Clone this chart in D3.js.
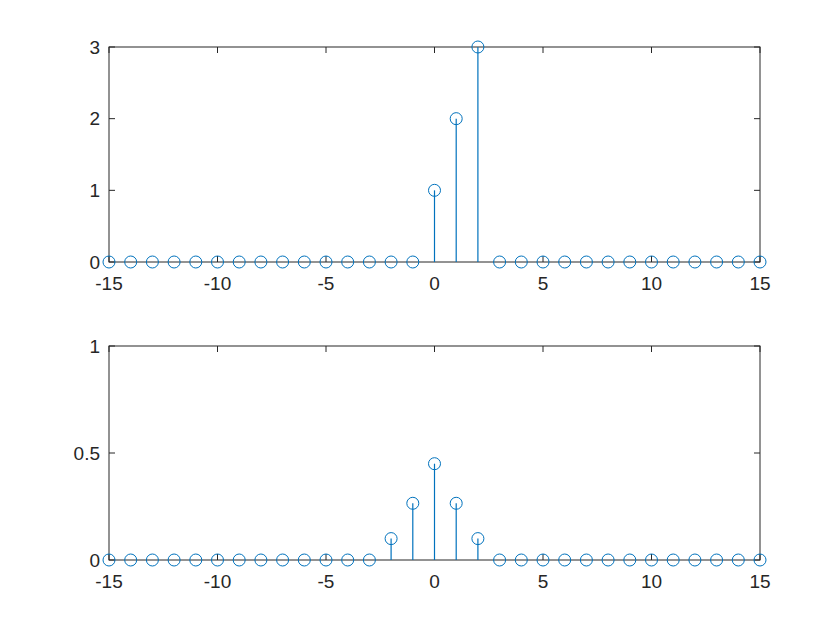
<!DOCTYPE html>
<html><head><meta charset="utf-8">
<script src="https://cdn.jsdelivr.net/npm/d3@7"></script>
<style>body{margin:0;background:#fff}svg{display:block}</style>
</head><body>
<script>
const nValues = d3.range(-15, 16);
const topValues = [0,0,0,0,0,0,0,0,0,0,0,0,0,0,0,1,2,3,0,0,0,0,0,0,0,0,0,0,0,0,0];
const bottomValues = [0,0,0,0,0,0,0,0,0,0,0,0,0,0.1,0.265,0.45,0.265,0.1,0,0,0,0,0,0,0,0,0,0,0,0,0];
const xTicks = [-15,-10,-5,0,5,10,15];
const topYTicks = [0,1,2,3];
const bottomYTicks = [0,0.5,1];

const W = 840, H = 630;
const svg = d3.select("body").append("svg").attr("width", W).attr("height", H);
const axisColor = "#262626", stemColor = "#0072BD";
const font = "Liberation Sans, Arial, Helvetica, sans-serif";

function panel(top, bottom, yDomain, yTicks, values, fmt) {
  const x = d3.scaleLinear().domain([-15, 15]).range([109, 760]);
  const y = d3.scaleLinear().domain(yDomain).range([bottom, top]);
  const g = svg.append("g");
  const tl = 6;
  g.append("rect").attr("x", x.range()[0]).attr("y", top)
    .attr("width", x.range()[1] - x.range()[0]).attr("height", bottom - top)
    .attr("fill", "none").attr("stroke", axisColor).attr("stroke-width", 1);
  xTicks.forEach(t => {
    g.append("line").attr("x1", x(t)).attr("x2", x(t)).attr("y1", bottom).attr("y2", bottom - tl).attr("stroke", axisColor);
    g.append("line").attr("x1", x(t)).attr("x2", x(t)).attr("y1", top).attr("y2", top + tl).attr("stroke", axisColor);
    g.append("text").attr("x", x(t)).attr("y", bottom + 15).attr("dy", "0.71em")
      .attr("text-anchor", "middle").attr("font-family", font).attr("font-size", 19)
      .attr("fill", axisColor).text(t);
  });
  yTicks.forEach(t => {
    g.append("line").attr("x1", x.range()[0]).attr("x2", x.range()[0] + tl).attr("y1", y(t)).attr("y2", y(t)).attr("stroke", axisColor);
    g.append("line").attr("x1", x.range()[1]).attr("x2", x.range()[1] - tl).attr("y1", y(t)).attr("y2", y(t)).attr("stroke", axisColor);
    g.append("text").attr("x", x.range()[0] - 9).attr("y", y(t)).attr("dy", "0.35em")
      .attr("text-anchor", "end").attr("font-family", font).attr("font-size", 19)
      .attr("fill", axisColor).text(fmt(t));
  });
  const data = nValues.map((n, i) => ({n, v: values[i]}));
  g.selectAll(".stem").data(data.filter(d => d.v !== 0)).enter().append("line")
    .attr("x1", d => x(d.n)).attr("x2", d => x(d.n))
    .attr("y1", y(0)).attr("y2", d => y(d.v))
    .attr("stroke", stemColor).attr("stroke-width", 1.2);
  g.selectAll(".mk").data(data).enter().append("circle")
    .attr("cx", d => x(d.n)).attr("cy", d => y(d.v)).attr("r", 6)
    .attr("fill", "none").attr("stroke", stemColor).attr("stroke-width", 1);
}

panel(47, 262, [0, 3], topYTicks, topValues, d => d);
panel(346, 560, [0, 1], bottomYTicks, bottomValues, d => d);
</script>
</body></html>
